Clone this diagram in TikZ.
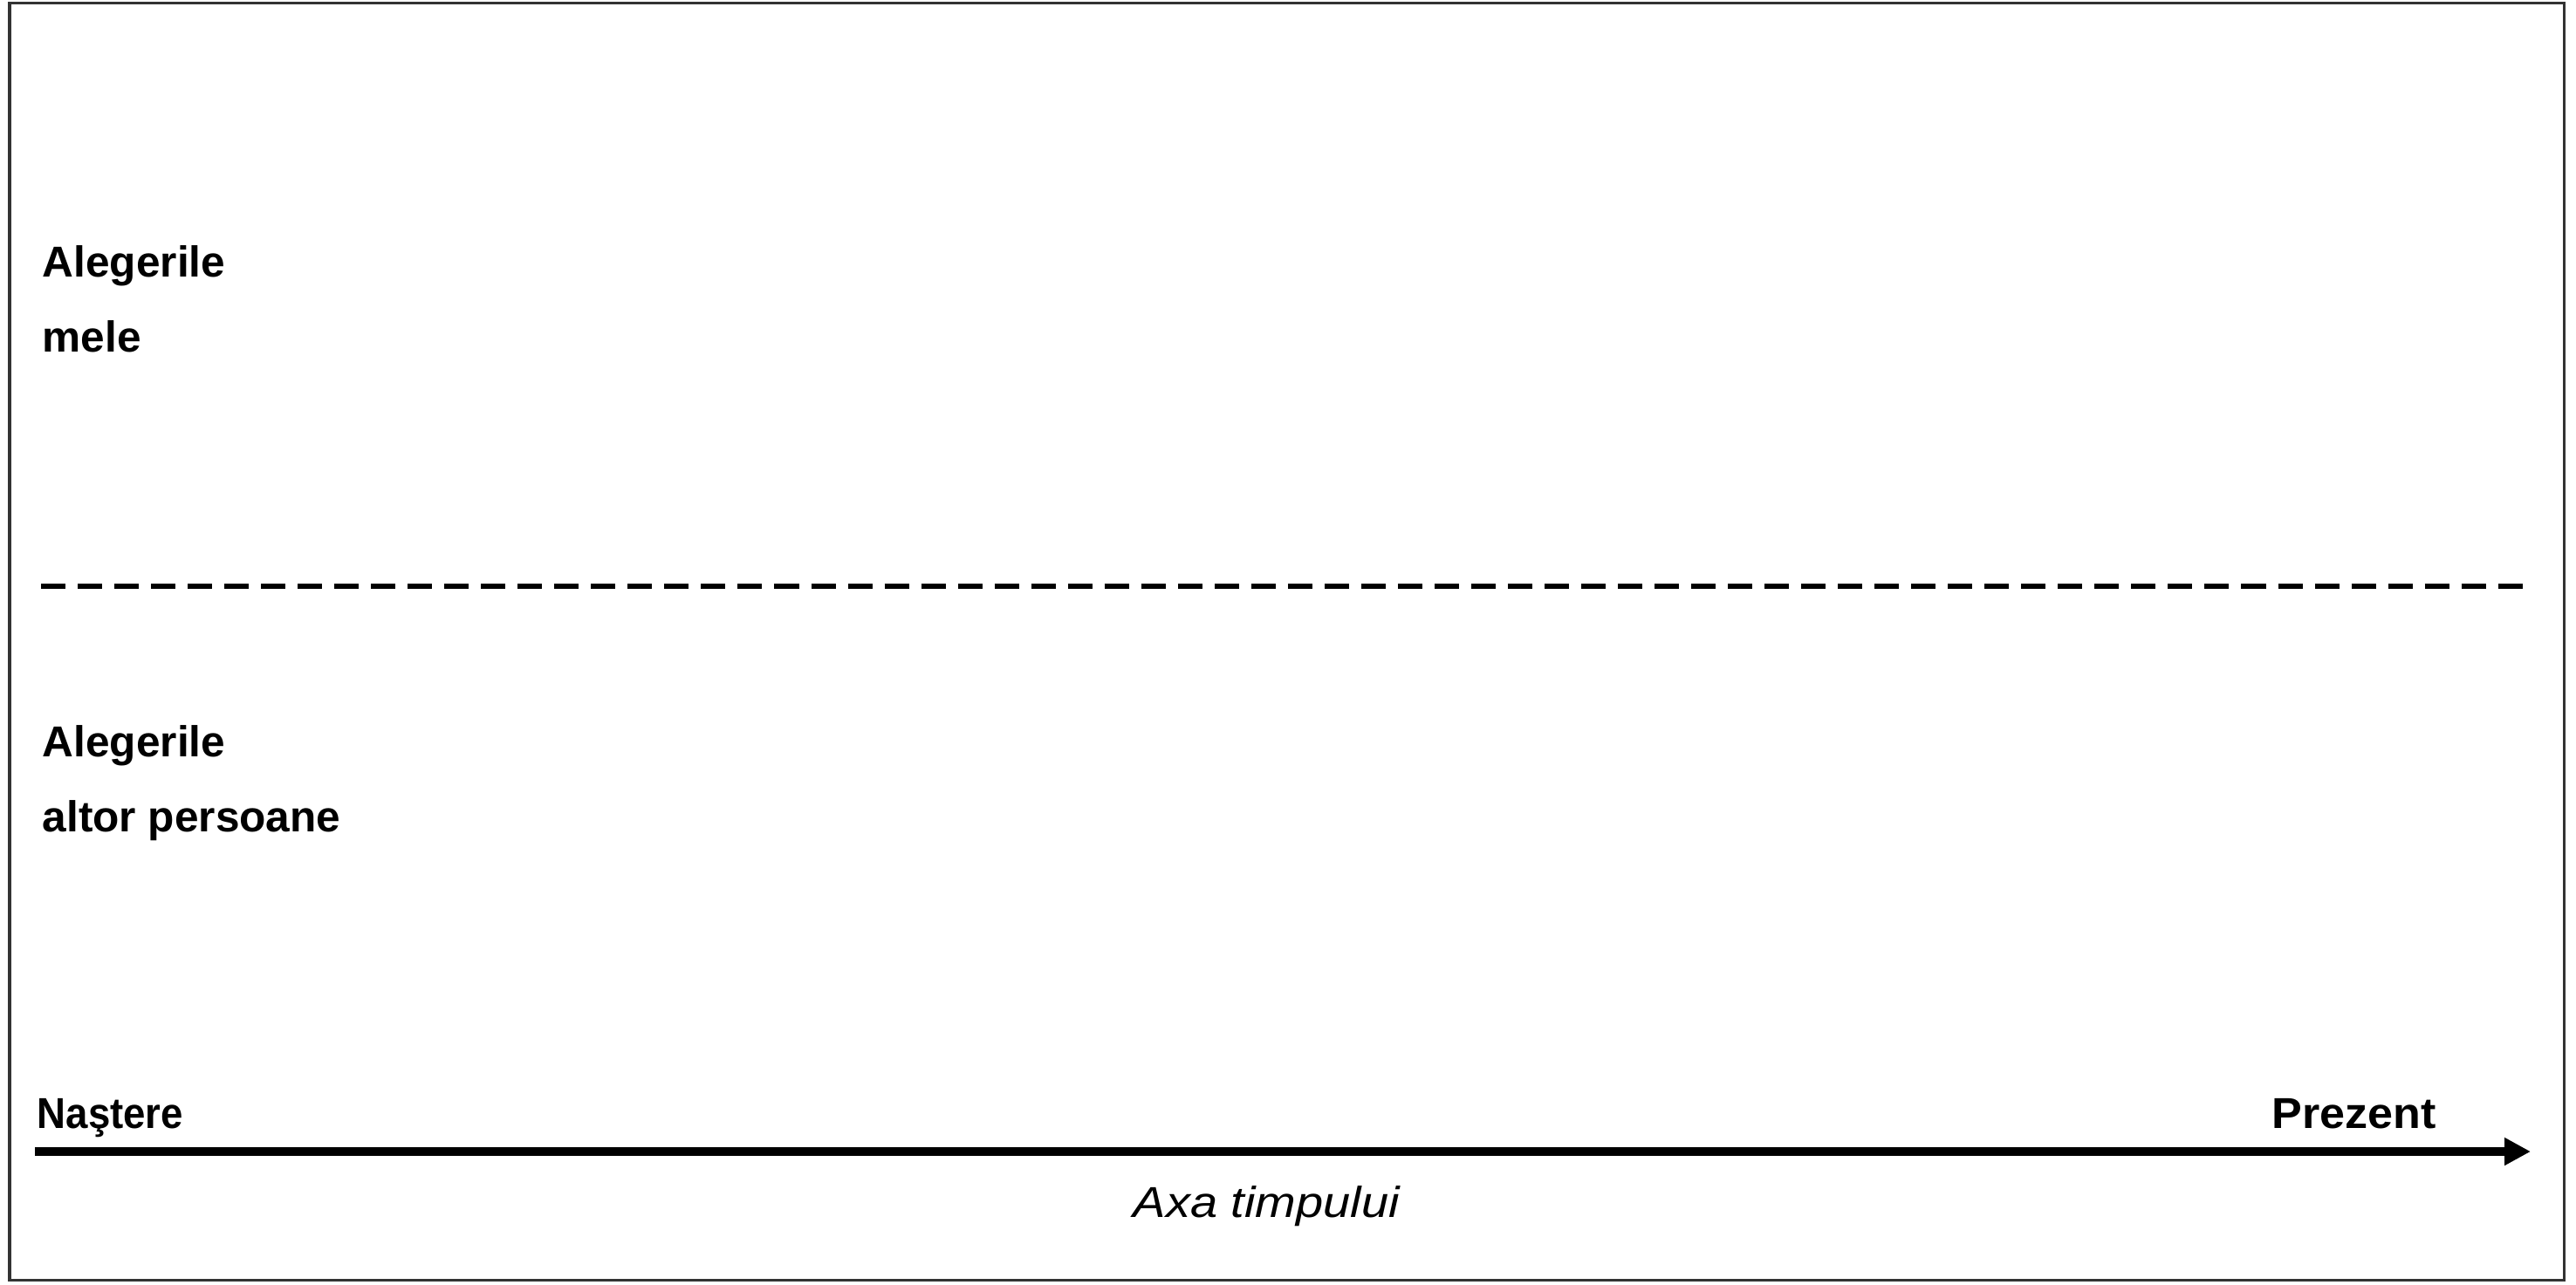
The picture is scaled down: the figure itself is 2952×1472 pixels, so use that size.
\documentclass[tikz,border=0pt]{standalone}
\usepackage{fontspec}
\setmainfont{Liberation Sans}
\usetikzlibrary{arrows.meta}
\begin{document}
\begin{tikzpicture}[x=0.01cm,y=-0.01cm,
  lbl/.style={inner sep=0pt,anchor=base west,font=\fontsize{14.1}{17}\selectfont\bfseries},
  ital/.style={inner sep=0pt,anchor=base west,font=\fontsize{14.1}{17}\selectfont\itshape}]
\useasboundingbox (0,0) rectangle (2952,1472);
\fill[white] (0,0) rectangle (2952,1472);
\draw[line width=0.03cm,black!80] (11,3) rectangle (2938,1467);
\node[lbl] (a1) at (48,317) {Alegerile};
\node[lbl] (a2) at (48,403) {mele};
\node[lbl] (b1) at (48,867) {Alegerile};
\node[lbl] (b2) at (48,953) {altor persoane};
\node[lbl] (nas) at (42,1293) {\scalebox{0.92}[1]{Naştere}};
\node[lbl] (prez) at (2603,1293) {\scalebox{1.05}[1]{Prezent}};
\node[ital] (axa) at (1298,1395) {\scalebox{1.13}[1]{Axa timpului}};
\coordinate (d0) at (47,672);
\coordinate (d1) at (2900,672);
\draw[line width=0.055cm,dash pattern=on 0.28cm off 0.14cm] (d0) -- (d1);
\coordinate (t0) at (40,1320);
\coordinate (t1) at (2900,1320);
\draw[line width=0.1cm,-{Triangle[length=0.3cm,width=0.3cm]}] (t0) -- (t1);
\end{tikzpicture}
\end{document}
